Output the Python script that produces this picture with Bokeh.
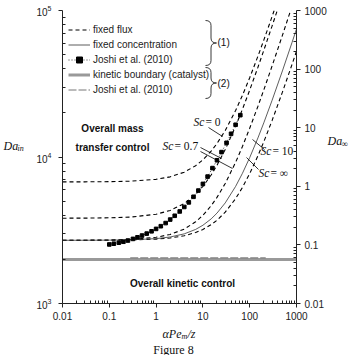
from bokeh.plotting import figure
from bokeh.models import (Range1d, LogScale, LogAxis, FixedTicker, CustomJSTickFormatter,
                          Legend, LegendItem, Label)
from bokeh.embed import file_html
from bokeh.resources import INLINE

# ---------------- data ----------------
# fixed flux, Sc = 0 (top dashed)
ffA_x = [0.01, 0.03, 0.1, 0.3, 1, 2, 4, 7, 10, 15, 20, 30, 50, 70, 100, 150, 200, 300, 360]
ffA_y = [6763, 6768, 6788, 6844, 7040, 7320, 7880, 8720, 9560, 10960, 12360, 15160, 20760,
         26360, 34760, 48760, 62760, 90760, 107560]
# fixed flux, second dashed
ffB_x = [0.01, 0.03, 0.1, 0.3, 1, 2, 4, 7, 10, 15, 20, 30, 50, 70, 100, 150, 200, 300, 420]
ffB_y = [3822, 3827, 3845, 3894, 4068, 4316, 4812, 5556, 6300, 7540, 8780, 11260, 16220,
         21180, 28620, 41020, 53420, 78220, 107980]
# fixed flux, Sc = 0.7
ffC_x = [0.01, 0.03, 0.1, 0.3, 1, 2, 4, 7, 10, 15, 20, 30, 50, 70, 100, 150, 200, 300, 500, 800]
ffC_y = [2701, 2704, 2713, 2739, 2830, 2960, 3220, 3610, 4000, 4650, 5300, 6600, 9200,
         11800, 15700, 22200, 28700, 41700, 67700, 106700]
# fixed flux, Sc = inf
ffD_x = [0.01, 0.03, 0.1, 0.3, 1, 2, 4, 7, 10, 15, 20, 30, 50, 70, 100, 150, 200, 300, 500, 800, 1000]
ffD_y = [2700, 2701, 2705, 2715, 2750, 2800, 2900, 3050, 3200, 3450, 3700, 4200, 5200,
         6200, 7700, 10200, 12700, 17700, 27700, 42700, 52700]
# fixed concentration, Sc = 10
fc_x = [0.01, 0.03, 0.1, 0.3, 1, 2, 4, 7, 10, 15, 20, 30, 50, 70, 100, 150, 200, 300, 500, 800, 1000]
fc_y = [2701, 2702, 2707, 2722, 2772, 2844, 2988, 3204, 3420, 3780, 4140, 4860, 6300,
        7740, 9900, 13500, 17100, 24300, 38700, 60300, 74700]
# Joshi et al. (2010), group (1)
j1_x = [0.10, 0.125, 0.16, 0.2, 0.25, 0.32, 0.4, 0.5, 0.63, 0.8, 1.0, 1.26, 1.6, 2.0, 2.5,
        3.2, 4.0, 5.0, 6.3, 8.0, 10, 12.6, 16, 20, 25, 32, 40, 50, 63]
j1_y = [2530, 2560, 2600, 2640, 2690, 2760, 2830, 2910, 3000, 3110, 3230, 3370, 3540, 3740,
        3970, 4250, 4560, 4900, 5350, 5900, 6550, 7350, 8400, 9500, 10800, 12500, 14400,
        16600, 19300]
# kinetic boundary (catalyst)
kin_x = [0.01, 1000]
kin_y = [2000, 2000]
# Joshi et al. (2010), group (2)
j2_x = [0.28, 220]
j2_y = [2050, 2050]

x_ticks = [0.01, 0.1, 1, 10, 100, 1000]
left_ticks = [1e3, 1e4, 1e5]
right_ticks = [0.01, 0.1, 1, 10, 100, 1000]

legend_labels = ["fixed flux", "fixed concentration", "Joshi et al. (2010)",
                 "kinetic boundary (catalyst)", "Joshi et al. (2010)"]

# ---------------- layout ----------------
W, H = 352, 355
L, R, T, B = 62, 296, 10, 303
X0, X1, Y0, Y1 = 0.01, 1000, 1e3, 1e5


def X(px):
    return 10 ** (-2 + 5 * (px - L) / (R - L))


def Y(py):
    return 10 ** (3 + 2 * (B - py) / (B - T))


def minors(lo_exp, hi_exp):
    return [m * 10 ** e for e in range(lo_exp, hi_exp) for m in range(2, 10)]


p = figure(width=W, height=H, x_axis_type="log", y_axis_type="log",
           x_range=Range1d(X0, X1), y_range=Range1d(Y0, Y1),
           output_backend="svg", toolbar_location=None,
           min_border_left=L, min_border_right=W - R, min_border_top=T, min_border_bottom=H - B)
p.outline_line_color = None
p.grid.visible = False
p.background_fill_color = "white"
p.border_fill_color = "white"

p.extra_y_ranges = {"r": Range1d(0.01, 1000)}
p.extra_y_scales = {"r": LogScale()}
raxis = LogAxis(y_range_name="r")
p.add_layout(raxis, "right")

xa = p.xaxis[0]
ya = p.yaxis[0]
xa.ticker = FixedTicker(ticks=x_ticks, minor_ticks=minors(-2, 3))
xa.formatter = CustomJSTickFormatter(code="return tick.toString();")
ya.ticker = FixedTicker(ticks=left_ticks, minor_ticks=minors(3, 5))
raxis.ticker = FixedTicker(ticks=right_ticks, minor_ticks=minors(-2, 3))
raxis.formatter = CustomJSTickFormatter(code="return tick.toString();")

for ax in (xa, ya, raxis):
    ax.axis_line_color = "#222222"
    ax.major_tick_line_color = "#222222"
    ax.minor_tick_line_color = "#222222"
    ax.major_tick_in = 0
    ax.major_tick_out = 4
    ax.minor_tick_in = 3
    ax.minor_tick_out = 0
    ax.major_label_text_font = "Liberation Sans"
    ax.major_label_text_font_size = "10px"
    ax.major_label_text_color = "#222222"
    ax.major_label_standoff = 4
ya.major_label_standoff = 7

# ---------------- series ----------------
dash = "4 3"
rA = p.line(ffA_x, ffA_y, line_color="black", line_width=1.1, line_dash=dash)
rB = p.line(ffB_x, ffB_y, line_color="black", line_width=1.1, line_dash=dash)
rC = p.line(ffC_x, ffC_y, line_color="black", line_width=1.1, line_dash=dash)
rD = p.line(ffD_x, ffD_y, line_color="black", line_width=1.1, line_dash=dash)
rFC = p.line(fc_x, fc_y, line_color="#333333", line_width=0.8)
rK = p.line(kin_x, kin_y, line_color="#999999", line_width=3)
rJ2 = p.line(j2_x, j2_y, line_color="#666666", line_width=0.9, line_dash="8 2")
rJ1l = p.line(j1_x, j1_y, line_color="black", line_width=0.8, line_dash="1 2")
rJ1s = p.scatter(j1_x, j1_y, marker="square", size=3.6, fill_color="black", line_color="black")

legend = Legend(items=[
    LegendItem(label=legend_labels[0], renderers=[rA]),
    LegendItem(label=legend_labels[1], renderers=[rFC]),
    LegendItem(label=legend_labels[2], renderers=[rJ1l, rJ1s]),
    LegendItem(label=legend_labels[3], renderers=[rK]),
    LegendItem(label=legend_labels[4], renderers=[rJ2]),
], location=(6, 206), margin=0, padding=0, spacing=0,
    glyph_width=22, glyph_height=15, label_height=15, label_standoff=3,
    label_text_font="Liberation Sans", label_text_font_size="10px", label_text_color="#222222",
    label_text_line_height=1.0,
    background_fill_alpha=0, border_line_alpha=0)
p.add_layout(legend)


# ---------------- braces ----------------
def brace(x0, xt, top, bot):
    xm = (x0 + xt) / 2
    mid = (top + bot) / 2
    r = 5
    qs = [((x0, top), (xm, top), (xm, top + r)),
          ((xm, mid - r), (xm, mid), (xt, mid)),
          ((xt, mid), (xm, mid), (xm, mid + r)),
          ((xm, bot - r), (xm, bot), (x0, bot))]
    p.quadratic(x0=[X(q[0][0]) for q in qs], y0=[Y(q[0][1]) for q in qs],
                x1=[X(q[2][0]) for q in qs], y1=[Y(q[2][1]) for q in qs],
                cx=[X(q[1][0]) for q in qs], cy=[Y(q[1][1]) for q in qs],
                line_color="#222222", line_width=0.9)
    p.segment(x0=[X(xm), X(xm)], y0=[Y(top + r), Y(mid + r)],
              x1=[X(xm), X(xm)], y1=[Y(mid - r), Y(bot - r)],
              line_color="#222222", line_width=0.9)


brace(205, 216, 20, 65)
brace(205, 216, 67, 98)

# ---------------- leader lines ----------------
leaders = [((208, 127), (222, 136)),
           ((200, 147), (221, 158)),
           ((200, 151), (232, 168)),
           ((252, 139), (264, 149)),
           ((246, 157), (258, 169))]
p.segment(x0=[X(a[0]) for a, b in leaders], y0=[Y(a[1]) for a, b in leaders],
          x1=[X(b[0]) for a, b in leaders], y1=[Y(b[1]) for a, b in leaders],
          line_color="black", line_width=0.8)


# ---------------- texts ----------------
def lab(text, px, py, size="10px", font="Liberation Sans", style="normal", align="left",
        place=None):
    lb = Label(x=X(px), y=Y(py), text=text, text_font=font, text_font_size=size,
               text_font_style=style, text_align=align, text_baseline="middle",
               text_color="#111111")
    if place is None:
        p.add_layout(lb)
    else:
        p.add_layout(lb, place)


lab("(1)", 217, 42)
lab("(2)", 217, 83)
lab("Overall mass", 112, 128, style="bold", align="center")
lab("transfer control", 112, 147, style="bold", align="center")
lab("Overall kinetic control", 182, 283, style="bold", align="center")

serif = "Liberation Serif"
for txt, px, py in [("0", 193, 121), ("0.7", 162, 145), ("10", 260, 150), ("\u221e", 258, 172)]:
    lab("Sc", px, py, size="11.5px", font=serif, style="italic")
    lab("= " + txt, px + 12, py, size="11.5px", font=serif)

# texts outside the frame live in the side panels (not clipped there)
lab("Da", 3, 145, size="12px", font=serif, style="italic", place="left")
lab("in", 17, 148, size="8px", font=serif, style="italic", place="left")
lab("/z", 187, 333, size="12px", font=serif, style="italic", place="left")
lab("Da", 327, 140, size="12px", font=serif, style="italic", place="right")
lab("\u221e", 341, 143, size="9px", font=serif, place="right")
lab("m", 181, 336, size="8px", font=serif, style="italic", place="above")
lab("\u03b1Pe", 162, 333, size="12px", font=serif, style="italic", place="below")
lab("Figure 8", 173, 349, size="12px", font=serif, align="center", place="below")

open("out.html", "w").write(file_html(p, INLINE))
